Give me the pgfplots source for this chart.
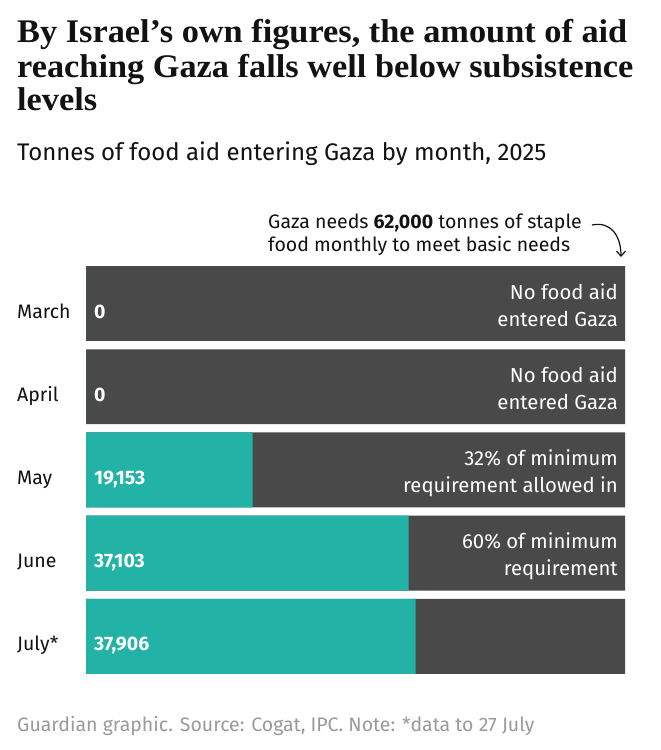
\documentclass[border=0pt]{standalone}
\usepackage{pgfplots}
\pgfplotsset{compat=1.18}
\usetikzlibrary{arrows.meta}
\usepackage{fontspec}
\setmainfont{Fira Sans}
\newfontfamily\titlefont[FakeStretch=1.04]{Liberation Serif}
\definecolor{bargrey}{HTML}{494949}
\definecolor{aidteal}{HTML}{22B2A6}
\definecolor{titleblack}{HTML}{121212}
\definecolor{footgrey}{HTML}{9A9A9A}
\begin{document}
\begin{tikzpicture}
\path[use as bounding box, fill=white] (0,0) rectangle (661bp,-750bp);
\begin{scope}[x=1bp,y=-1bp]
\node[anchor=base west, inner sep=0pt, text=titleblack, font=\titlefont\bfseries\fontsize{33bp}{36bp}\selectfont] at (17,42) {By Israel’s own figures, the amount of aid};
\node[anchor=base west, inner sep=0pt, text=titleblack, font=\titlefont\bfseries\fontsize{33bp}{36bp}\selectfont] at (17,77) {reaching Gaza falls well below subsistence};
\node[anchor=base west, inner sep=0pt, text=titleblack, font=\titlefont\bfseries\fontsize{33bp}{36bp}\selectfont] at (17,110) {levels};
\node[anchor=base west, inner sep=0pt, text=titleblack, font=\fontsize{24bp}{28bp}\selectfont] at (17,160) {Tonnes of food aid entering Gaza by month, 2025};
\node[anchor=base west, inner sep=0pt, text=titleblack, font=\fontsize{19.5bp}{23bp}\selectfont] at (268,228) {Gaza needs \textbf{62,000} tonnes of staple};
\node[anchor=base west, inner sep=0pt, text=titleblack, font=\fontsize{19.5bp}{23bp}\selectfont] at (268,251) {food monthly to meet basic needs};
\draw[titleblack, line width=1.2bp, -{Straight Barb[length=5bp,width=9bp]}] (592,225) .. controls (611,221) and (621,236) .. (621,257);
\node[anchor=base west, inner sep=0pt, text=footgrey, font=\fontsize{19.5bp}{23bp}\selectfont] at (17,731) {Guardian graphic. Source: Cogat, IPC. Note: *data to 27 July};
\end{scope}
\begin{axis}[
  at={(86bp,-261.9bp)}, anchor=north west,
  scale only axis, width=539bp, height=416bp,
  xbar, bar shift=0pt, bar width=0.9,
  xmin=0, xmax=62000, ymin=-0.5, ymax=4.5, y dir=reverse,
  axis line style={draw=none}, major tick length=0pt,
  xtick=\empty, ytick={0,1,2,3,4},
  yticklabels={March,April,May,June,July*},
  yticklabel style={anchor=base west, xshift=-69bp, yshift=-14.5bp, inner sep=0pt, font=\fontsize{19.5bp}{24bp}\selectfont, text=titleblack},
  clip=false,
]
\addplot[fill=bargrey, draw=none] coordinates {(62000,0) (62000,1) (62000,2) (62000,3) (62000,4)};
\addplot[fill=aidteal, draw=none] coordinates {(0,0) (0,1) (19153,2) (37103,3) (37906,4)};
\foreach \v/\lab in {0/0,1/0,2/{19,153},3/{37,103},4/{37,906}} {
  \edef\temp{\noexpand\node[anchor=base west, inner sep=0pt, text=white, font=\noexpand\bfseries\noexpand\fontsize{19.5bp}{22bp}\noexpand\selectfont, xshift=8bp, yshift=-14.5bp] at (axis cs:0,\v) {\lab};}
  \temp
}
\tikzset{annot/.style={anchor=base east, inner sep=0pt, text=white, font=\fontsize{20.3bp}{24bp}\selectfont, xshift=-7bp}}
\node[annot, yshift=4.5bp] at (axis cs:62000,0) {No food aid};
\node[annot, yshift=-22.5bp] at (axis cs:62000,0) {entered Gaza};
\node[annot, yshift=4.5bp] at (axis cs:62000,1) {No food aid};
\node[annot, yshift=-22.5bp] at (axis cs:62000,1) {entered Gaza};
\node[annot, yshift=4.5bp] at (axis cs:62000,2) {32\% of minimum};
\node[annot, yshift=-22.5bp] at (axis cs:62000,2) {requirement allowed in};
\node[annot, yshift=4.5bp] at (axis cs:62000,3) {60\% of minimum};
\node[annot, yshift=-22.5bp] at (axis cs:62000,3) {requirement};
\end{axis}
\end{tikzpicture}
\end{document}
